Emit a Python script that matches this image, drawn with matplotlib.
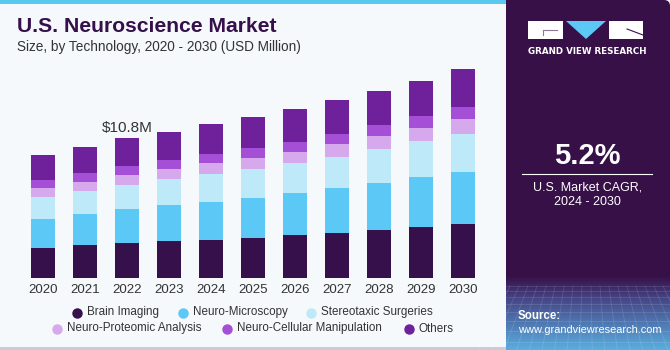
import numpy as np
import matplotlib.pyplot as plt
from matplotlib.patches import Rectangle, Polygon, FancyBboxPatch
from matplotlib.lines import Line2D

years = [2020, 2021, 2022, 2023, 2024, 2025, 2026, 2027, 2028, 2029, 2030]
segments = ["Brain Imaging", "Neuro-Microscopy", "Stereotaxic Surgeries",
            "Neuro-Proteomic Analysis", "Neuro-Cellular Manipulation", "Others"]

# USD million
brain_imaging = [2.30, 2.56, 2.73, 2.89, 2.94, 3.12, 3.30, 3.48, 3.71, 3.92, 4.15]
neuro_microscopy = [2.25, 2.38, 2.57, 2.72, 2.92, 3.05, 3.23, 3.46, 3.63, 3.86, 4.04]
stereotaxic = [1.71, 1.79, 1.87, 2.00, 2.15, 2.23, 2.30, 2.40, 2.61, 2.74, 2.92]
proteomic = [0.69, 0.69, 0.77, 0.77, 0.87, 0.87, 0.89, 0.95, 0.98, 1.02, 1.11]
cellular = [0.59, 0.69, 0.69, 0.71, 0.67, 0.77, 0.77, 0.79, 0.84, 0.92, 0.97]
others = [1.92, 2.00, 2.17, 2.17, 2.28, 2.38, 2.51, 2.61, 2.63, 2.71, 2.87]

colors = ["#36104A", "#5BC8F5", "#BDE9F9", "#D6A9EC", "#A54FD6", "#6E219B"]

W, H = 670, 350
fig = plt.figure(figsize=(6.7, 3.5), dpi=100)
fig.patch.set_facecolor("#F5F9FC")

# background decoration layer in pixel coords
bg = fig.add_axes([0, 0, 1, 1])
bg.set_xlim(0, W)
bg.set_ylim(H, 0)
bg.axis("off")
bg.add_patch(Rectangle((0, 0), 506, 4, color="#5BC8F0", lw=0))
bg.add_patch(Rectangle((0, 347), 506, 3, color="#C9CDD2", lw=0))

# right panel (rounded top-right corner only)
bg.add_patch(FancyBboxPatch((506, 0), 164, 40, boxstyle="round,pad=0,rounding_size=6",
                            fc="#371048", ec="none"))
bg.add_patch(Rectangle((506, 0), 20, 40, fc="#371048", ec="none"))
bg.add_patch(Rectangle((506, 20), 164, 330, fc="#371048", ec="none"))
grad = np.linspace(0, 1, 100)[:, None]
top = np.array([0x37, 0x10, 0x48]) / 255
mid = np.array([0x45, 0x45, 0x85]) / 255
bot = np.array([0x5A, 0xAE, 0xE0]) / 255
g = grad[..., None]
rgb = np.where(g < 0.3, top + (mid - top) * (g / 0.3),
               mid + (bot - mid) * ((g - 0.3) / 0.7))
bg.imshow(rgb, extent=(506, 670, 350, 276), aspect="auto", zorder=1)
for gx in np.arange(510, 670, 9):
    bg.plot([gx, gx + (gx - 588) * 0.4], [286, 350], color="white", alpha=0.13, lw=0.6, zorder=2)
for gy in [286, 291, 297, 304, 312, 321, 331, 342]:
    bg.plot([506, 670], [gy, gy], color="white", alpha=0.13, lw=0.6, zorder=2)

# logo
bg.add_patch(Rectangle((528, 21), 35, 18, color="white", lw=0, zorder=3))
bg.add_patch(Polygon([[566, 21], [606, 21], [586, 39]], color="#5BC8F5", lw=0, zorder=3))
bg.add_patch(Rectangle((609, 21), 34, 18, color="white", lw=0, zorder=3))
bg.plot([543, 557], [30, 30], color="#8A7A96", lw=0.8, zorder=4)
bg.plot([543, 543], [30, 35], color="#8A7A96", lw=0.8, zorder=4)
bg.plot([627, 643], [29, 35], color="#371048", lw=0.8, zorder=4)
bg.text(587.5, 51, "GRAND VIEW RESEARCH", color="white", fontsize=6.3, fontweight="bold",
        ha="center", va="center", family="DejaVu Sans", zorder=4)

bg.text(587.5, 156, "5.2%", color="white", fontsize=21, fontweight="bold",
        ha="center", va="center", family="Liberation Sans")
bg.plot([522, 652], [173.5, 173.5], color="white", lw=0.8)
bg.text(587.5, 187, "U.S. Market CAGR,", color="white", fontsize=9,
        ha="center", va="center", family="Liberation Sans")
bg.text(587.5, 202, "2024 - 2030", color="white", fontsize=9,
        ha="center", va="center", family="Liberation Sans")
bg.text(518, 316, "Source:", color="white", fontsize=8.3, fontweight="bold",
        ha="left", va="center", family="Liberation Sans", zorder=4)
bg.text(518, 330, "www.grandviewresearch.com", color="white", fontsize=7.9,
        ha="left", va="center", family="Liberation Sans", zorder=4)

# titles
bg.text(17, 27, "U.S. Neuroscience Market", color="#36104A", fontsize=15.2, fontweight="bold",
        ha="left", va="center", family="Liberation Sans")
bg.text(17, 46.5, "Size, by Technology, 2020 - 2030 (USD Million)", color="#333333",
        fontsize=9.8, ha="left", va="center", family="Liberation Sans")

# chart axes: x from 22 to 484 px, baseline at 278.3 px
ax = fig.add_axes([22 / W, (H - 278.3) / H, 462 / W, 218.3 / H])
ax.set_facecolor("none")
x = np.arange(len(years))
bottom = np.zeros(len(years))
for vals, c in zip([brain_imaging, neuro_microscopy, stereotaxic, proteomic, cellular, others], colors):
    ax.bar(x, vals, bottom=bottom, width=0.575, color=c, edgecolor="none")
    bottom += np.array(vals)
ax.set_xlim(-0.5, len(years) - 0.5)
ax.set_ylim(0, 218.3 * 10.8 / 140.6)
ax.set_xticks(x)
ax.set_xticklabels([str(y) for y in years], fontsize=9.5, color="#333333", family="Liberation Sans")
ax.tick_params(axis="x", length=0, pad=4)
ax.set_yticks([])
for s in ax.spines.values():
    s.set_visible(False)
ax.text(x[2], bottom[2] + 0.75, "$10.8M", ha="center", va="center", fontsize=11,
        color="#333333", family="Liberation Sans")

# legend, two rows
legend_pos = [(77, 312.5), (183, 312.5), (311, 312.5), (57, 328.5), (227, 328.5), (408.5, 328.5)]
for (lx, ly), name, c in zip(legend_pos, segments, colors):
    bg.add_line(Line2D([lx], [ly], marker="o", markersize=6.5, color=c, lw=0))
    bg.text(lx + 10, ly, name, fontsize=8.4, color="#333333", ha="left", va="center",
            family="Liberation Sans")

fig.savefig("out.png", dpi=100, facecolor=fig.get_facecolor())
